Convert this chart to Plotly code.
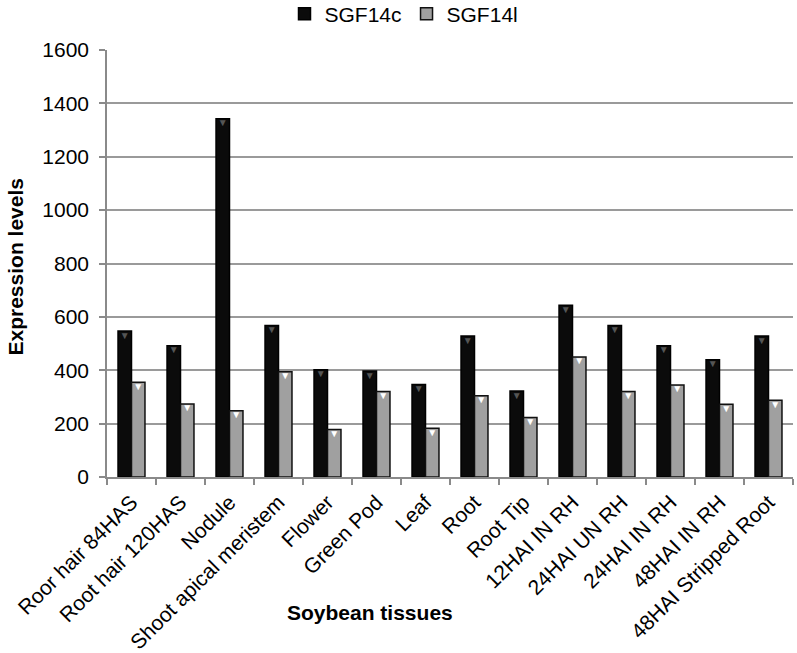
import plotly.graph_objects as go

categories = ["Roor hair 84HAS", "Root hair 120HAS", "Nodule", "Shoot apical meristem",
              "Flower", "Green Pod", "Leaf", "Root", "Root Tip", "12HAI IN RH",
              "24HAI UN RH", "24HAI IN RH", "48HAI IN RH", "48HAI Stripped Root"]
sgf14c = [547, 492, 1342, 568, 402, 397, 347, 528, 322, 644, 568, 492, 439, 528]
sgf14l = [355, 274, 248, 394, 178, 320, 183, 304, 223, 450, 320, 345, 273, 288]
y_ticks = [0, 200, 400, 600, 800, 1000, 1200, 1400, 1600]

FONT = "Arial, Liberation Sans, sans-serif"
L, R, T, B = 107, 4, 50, 176
W, H = 797, 653
PW, PH = W - L - R, H - T - B

fig = go.Figure()
fig.add_trace(go.Bar(x=categories, y=sgf14c, name="SGF14c", offsetgroup="c",
                     marker=dict(color="#0b0b0b", line=dict(color="#000000", width=1.5))))
fig.add_trace(go.Bar(x=categories, y=sgf14l, name="SGF14l", offsetgroup="l",
                     marker=dict(color="#a0a0a0", line=dict(color="#111111", width=1.5))))
# bevel highlight on the bar tops
fig.add_trace(go.Scatter(x=categories, y=sgf14c, mode="text", text=["▼"] * len(categories),
                         textposition="bottom center", offsetgroup="c", showlegend=False,
                         textfont=dict(size=10, color="#555555"), hoverinfo="skip"))
fig.add_trace(go.Scatter(x=categories, y=sgf14l, mode="text", text=["▼"] * len(categories),
                         textposition="bottom center", offsetgroup="l", showlegend=False,
                         textfont=dict(size=10, color="#ffffff"), hoverinfo="skip"))

fig.update_layout(
    width=W, height=H,
    margin=dict(l=L, r=R, t=T, b=B, autoexpand=False),
    paper_bgcolor="white", plot_bgcolor="white",
    font=dict(family=FONT, size=21, color="#000000"),
    barmode="group", bargap=0.45, bargroupgap=0.0,
    scattermode="group",
    legend=dict(orientation="h", x=(404 - L) / PW, xanchor="center",
                y=1.0 + (T - 14) / PH, yanchor="middle",
                font=dict(size=21), itemwidth=30, bgcolor="rgba(0,0,0,0)"),
    showlegend=True,
)

fig.update_yaxes(range=[0, 1600], tickvals=y_ticks, showgrid=True, gridcolor="#9a9a9a",
                 gridwidth=1.5, showline=True, linecolor="#8a8a8a", linewidth=1.5,
                 ticks="outside", ticklen=6, tickcolor="#8a8a8a", tickwidth=1.5,
                 zeroline=False, ticklabelstandoff=6, automargin=False,
                 tickfont=dict(size=21))
fig.update_xaxes(tickangle=-45, showline=True, linecolor="#8a8a8a", linewidth=1.5,
                 ticks="outside", ticklen=6, tickcolor="#8a8a8a", tickwidth=1.5,
                 tickson="boundaries", showgrid=False, tickfont=dict(size=21),
                 automargin=False, ticklabelstandoff=3)

fig.add_annotation(text="<b>Soybean tissues</b>", xref="paper", yref="paper",
                   x=(370 - L) / PW, y=-(612 - (T + PH)) / PH, showarrow=False,
                   xanchor="center", yanchor="middle", font=dict(size=21))
fig.add_annotation(text="<b>Expression levels</b>", xref="paper", yref="paper",
                   x=(1 - L) / PW, y=((T + PH) - 267) / PH, showarrow=False,
                   textangle=-90, xanchor="left", yanchor="middle", font=dict(size=21))

fig.write_html("out.html", config={"displayModeBar": False},
               post_script="document.body.style.margin='0';")
